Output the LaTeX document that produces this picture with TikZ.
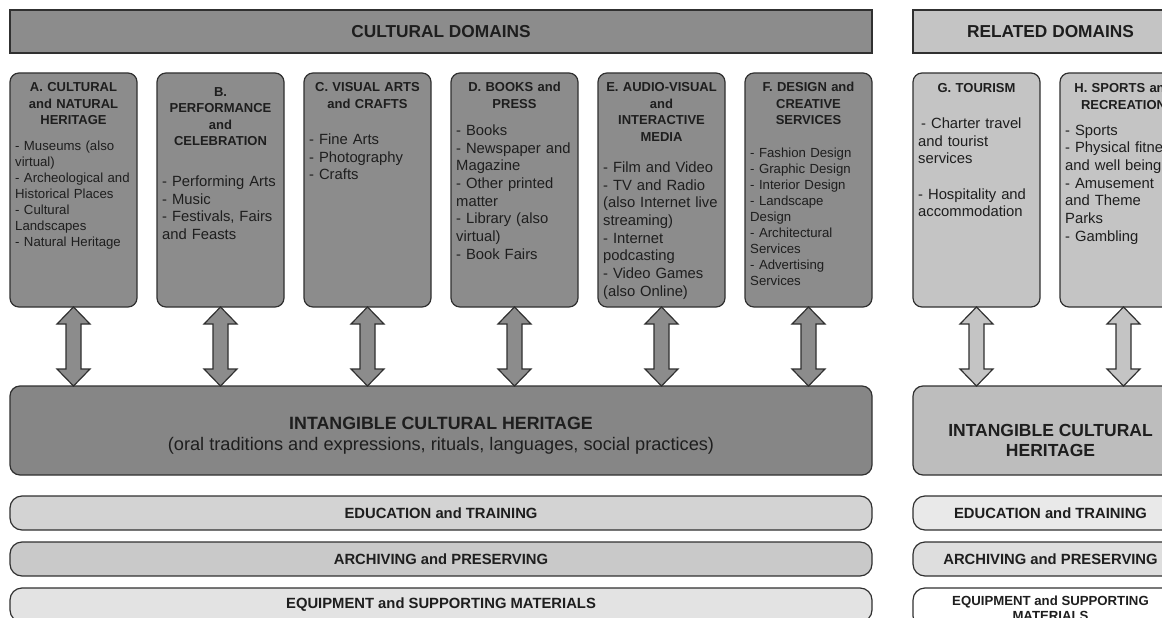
\documentclass[tikz,border=0pt]{standalone}
\usepackage{fontspec}
\setmainfont{Liberation Sans}
\usetikzlibrary{positioning}
\usetikzlibrary{calc}

\definecolor{culgray}{HTML}{8C8C8C}
\definecolor{ichgray}{HTML}{868686}
\definecolor{relgray}{HTML}{C4C4C4}
\definecolor{relich}{HTML}{BDBDBD}
\definecolor{edugray}{HTML}{D3D3D3}
\definecolor{edulight}{HTML}{E9E9E9}
\definecolor{archgray}{HTML}{C9C9C9}
\definecolor{archlight}{HTML}{DEDEDE}
\definecolor{equipgray}{HTML}{E3E3E3}
\definecolor{inkgray}{HTML}{1E1E1E}
\definecolor{edgegray}{HTML}{303030}

\tikzset{
  outline/.style={draw=edgegray, line width=1.2pt, outer sep=0pt},
  titlebar/.style={outline, anchor=north west, minimum height=43pt, inner sep=0pt, text=inkgray, font=\fontsize{17.3}{20}\selectfont\bfseries},
  dombox/.style={outline, rounded corners=9pt, anchor=north west, minimum width=127pt, minimum height=234pt, inner sep=0pt},
  domhead/.style={inner sep=0pt, text width=123pt, align=center, text=inkgray, font=\fontsize{13}{16.5}\selectfont\bfseries},
  domlist/.style={inner sep=0pt, text width=122pt, align=left, text=inkgray, font=\fontsize{14.8}{17.7}\selectfont},
  smalllist/.style={domlist, font=\fontsize{13.2}{16}\selectfont},
  ichbox/.style={outline, rounded corners=10pt, minimum height=89pt, inner sep=0pt},
  ichtext/.style={inner sep=0pt, align=center, text=inkgray},
  strip/.style={outline, rounded corners=12pt, minimum height=34pt, inner sep=0pt, align=center, text=inkgray, font=\fontsize{14.8}{15}\selectfont\bfseries},
  linkarrow/.style={outline, line join=miter}
}

\begin{document}
\begin{tikzpicture}[x=1pt, y=1pt]
  \useasboundingbox (0,0) rectangle (1162,-618);
  \clip (0,0) rectangle (1162,-618);

  % header bars
  \node[titlebar, fill=culgray, minimum width=862pt] (cdom) at (10,-10) {CULTURAL DOMAINS};
  \node[titlebar, fill=relgray, minimum width=275pt] (rdom) at (913,-10) {RELATED DOMAINS};

  % cultural domains
  \node[dombox, fill=culgray] (A) at (10,-73) {};
  \node[dombox, fill=culgray, right=20pt of A] (B) {};
  \node[dombox, fill=culgray, right=20pt of B] (C) {};
  \node[dombox, fill=culgray, right=20pt of C] (D) {};
  \node[dombox, fill=culgray, right=20pt of D] (E) {};
  \node[dombox, fill=culgray, right=20pt of E] (F) {};

  \node[domhead, below=9.3pt of A.north] (Ahead) {A. CULTURAL\\and NATURAL\\HERITAGE};
  \node[smalllist, below right=68pt and 5pt of A.north west] (Alist)
    {- Museums (also\\virtual)\\- Archeological and\\Historical Places\\- Cultural\\Landscapes\\- Natural Heritage};

  \node[domhead, below=14pt of B.north] (Bhead) {B.\\PERFORMANCE\\and\\CELEBRATION};
  \node[domlist, below right=102.5pt and 5pt of B.north west] (Blist)
    {- Performing Arts\\- Music\\- Festivals, Fairs\\and Feasts};

  \node[domhead, below=9.3pt of C.north] (Chead) {C. VISUAL ARTS\\and CRAFTS};
  \node[domlist, below right=60.5pt and 5pt of C.north west] (Clist)
    {- Fine Arts\\- Photography\\- Crafts};

  \node[domhead, below=9.3pt of D.north] (Dhead) {D. BOOKS and\\PRESS};
  \node[domlist, below right=51.5pt and 5pt of D.north west] (Dlist)
    {- Books\\- Newspaper and\\Magazine\\- Other printed\\matter\\- Library (also\\virtual)\\- Book Fairs};

  \node[domhead, below=9.3pt of E.north] (Ehead) {E. AUDIO-VISUAL\\and\\INTERACTIVE\\MEDIA};
  \node[domlist, below right=88.5pt and 5pt of E.north west] (Elist)
    {- Film and Video\\- TV and Radio\\(also Internet live\\streaming)\\- Internet\\podcasting\\- Video Games\\(also Online)};

  \node[domhead, below=9.3pt of F.north] (Fhead) {F. DESIGN and\\CREATIVE\\SERVICES};
  \node[smalllist, below right=75pt and 5pt of F.north west] (Flist)
    {- Fashion Design\\- Graphic Design\\- Interior Design\\- Landscape\\Design\\- Architectural\\Services\\- Advertising\\Services};

  % related domains
  \node[dombox, fill=relgray] (G) at (913,-73) {};
  \node[dombox, fill=relgray, right=20pt of G] (H) {};

  \node[domhead, below=10.3pt of G.north] (Ghead) {G. TOURISM};
  \node[domlist, below right=44.5pt and 5pt of G.north west] (Glist)
    {\hspace*{3pt}- Charter travel\\and tourist\\services\\[17.7pt]- Hospitality and\\accommodation};

  \node[domhead, below=10.3pt of H.north] (Hhead) {H. SPORTS and\\RECREATION};
  \node[domlist, below right=51.5pt and 5pt of H.north west] (Hlist)
    {- Sports\\- Physical fitness\\and well being\\- Amusement\\and Theme\\Parks\\- Gambling};

  % intangible heritage
  \node[ichbox, fill=ichgray, minimum width=862pt, below right=79pt and 0pt of A.south west] (ich) {};
  \node[ichtext, font=\fontsize{17.8}{21}\selectfont] (ichtxt) at ([yshift=-5pt]ich.center)
    {\textbf{INTANGIBLE CULTURAL HERITAGE}\\{\fontsize{18.2}{21}\selectfont (oral traditions and expressions, rituals, languages, social practices)}};
  \node[ichbox, fill=relich, minimum width=275pt, below right=79pt and 0pt of G.south west] (rich) {};
  \node[ichtext, font=\fontsize{17.5}{20}\selectfont\bfseries] (richtxt) at ([yshift=-10pt]rich.center)
    {INTANGIBLE CULTURAL\\HERITAGE};

  % two-way arrows
  \foreach \d in {A,B,C,D,E,F}
    \draw[linkarrow, fill=culgray] (\d.south) -- ++(16.5,-17) -- ++(-9,0)
      -- ($(\d.south |- ich.north)+(7.5,17)$) -- ++(9,0) -- (\d.south |- ich.north)
      -- ++(-16.5,17) -- ++(9,0) -- ($(\d.south)+(-7.5,-17)$) -- ++(-9,0) -- cycle;
  \foreach \d in {G,H}
    \draw[linkarrow, fill=relgray] (\d.south) -- ++(16.5,-17) -- ++(-9,0)
      -- ($(\d.south |- rich.north)+(7.5,17)$) -- ++(9,0) -- (\d.south |- rich.north)
      -- ++(-16.5,17) -- ++(9,0) -- ($(\d.south)+(-7.5,-17)$) -- ++(-9,0) -- cycle;

  % support strips
  \node[strip, fill=edugray, minimum width=862pt, below=21pt of ich] (edu) {EDUCATION and TRAINING};
  \node[strip, fill=archgray, minimum width=862pt, below=12pt of edu] (arch) {ARCHIVING and PRESERVING};
  \node[strip, fill=equipgray, minimum width=862pt, below=12pt of arch] (equip) {EQUIPMENT and SUPPORTING MATERIALS};

  \node[strip, fill=edulight, minimum width=275pt, below=21pt of rich] (redu) {EDUCATION and TRAINING};
  \node[strip, fill=archlight, minimum width=275pt, below=12pt of redu] (rarch) {ARCHIVING and PRESERVING};
  \node[strip, fill=white, minimum width=275pt, minimum height=40pt, below=12pt of rarch,
    font=\fontsize{13.2}{15}\selectfont\bfseries] (requip) {EQUIPMENT and SUPPORTING\\MATERIALS};
\end{tikzpicture}
\end{document}
